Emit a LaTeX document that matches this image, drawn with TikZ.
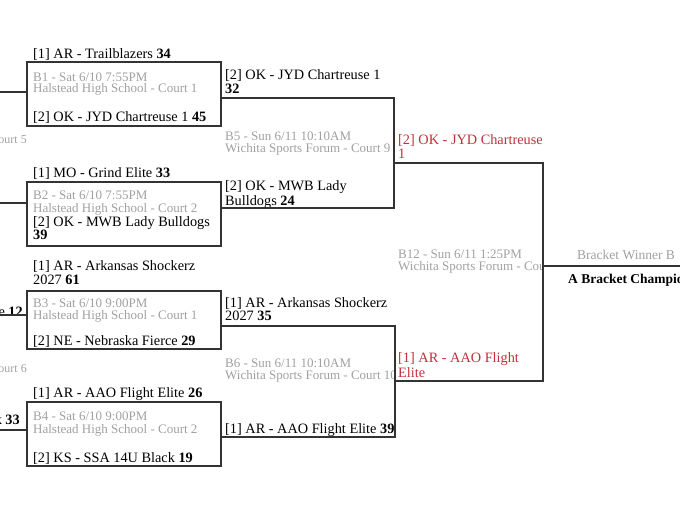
\documentclass[tikz,border=0pt]{standalone}
\usepackage{fontspec}
\setmainfont{Liberation Serif}
\usetikzlibrary{positioning}
\definecolor{linegray}{HTML}{333333}
\definecolor{infogray}{HTML}{A0A0A0}
\definecolor{winred}{HTML}{C0303A}

\begin{document}
\begin{tikzpicture}[x=1pt, y=-1pt,
  game/.style={draw=linegray, line width=2.5pt, minimum width=194pt,
               minimum height=64pt, inner sep=0pt},
  team/.style={anchor=base west, inner sep=0pt, font=\fontsize{14.3}{14}\selectfont},
  info/.style={anchor=base west, inner sep=0pt, text=infogray,
               font=\fontsize{13}{12}\selectfont},
  win/.style={team, text=winred},
  link/.style={draw=linegray, line width=2.5pt}
]
  \useasboundingbox (0,0) rectangle (680,507);
  \clip (0,0) rectangle (680,507);

  % Round 1 games
  \node[game] (b1) at (124,94) {};
  \node[game] (b2) at (124,214) {};
  \node[game, minimum height=58pt] (b3) at (124,320) {};
  \node[game] (b4) at (124,434) {};

  \node[team] (b1a) at (33,58) {[1] AR - Trailblazers \textbf{34}};
  \node[info] (b1t) at (33,81) {B1 - Sat 6/10 7:55PM};
  \node[info] (b1p) at (33,92) {Halstead High School - Court 1};
  \node[team] (b1b) at (33,121) {[2] OK - JYD Chartreuse 1 \textbf{45}};

  \node[team] (b2a) at (33,177) {[1] MO - Grind Elite \textbf{33}};
  \node[info] (b2t) at (33,199) {B2 - Sat 6/10 7:55PM};
  \node[info] (b2p) at (33,212) {Halstead High School - Court 2};
  \node[team] (b2b) at (33,226) {[2] OK - MWB Lady Bulldogs};
  \node[team] (b2s) at (33,239) {\textbf{39}};

  \node[team] (b3a) at (33,270) {[1] AR - Arkansas Shockerz};
  \node[team] (b3s) at (33,284) {2027 \textbf{61}};
  \node[info] (b3t) at (33,307) {B3 - Sat 6/10 9:00PM};
  \node[info] (b3p) at (33,319) {Halstead High School - Court 1};
  \node[team] (b3b) at (33,345) {[2] NE - Nebraska Fierce \textbf{29}};

  \node[team] (b4a) at (33,397) {[1] AR - AAO Flight Elite \textbf{26}};
  \node[info] (b4t) at (33,420) {B4 - Sat 6/10 9:00PM};
  \node[info] (b4p) at (33,433) {Halstead High School - Court 2};
  \node[team] (b4b) at (33,462) {[2] KS - SSA 14U Black \textbf{19}};

  % cut-off texts at the left edge
  \node[info, anchor=base east, font=\fontsize{12}{12}\selectfont] (c5) at (27,143) {ourt 5};
  \node[team, anchor=base east] (w12) at (23,316) {e \textbf{12}};
  \node[info, anchor=base east, font=\fontsize{12}{12}\selectfont] (c6) at (27,372) {ourt 6};
  \node[team, anchor=base east] (w33) at (20,424) {k \textbf{33}};

  % Round 2
  \begin{scope}
    \clip (221,0) rectangle (394,507);
    \node[team] (b5a) at (225,79) {[2] OK - JYD Chartreuse 1};
    \node[team] (b5s) at (225,93) {\textbf{32}};
    \node[info] (b5t) at (225,140) {B5 - Sun 6/11 10:10AM};
    \node[info] (b5p) at (225,152) {Wichita Sports Forum - Court 9};
    \node[team] (b5b) at (225,190) {[2] OK - MWB Lady};
    \node[team] (b5c) at (225,205) {Bulldogs \textbf{24}};

    \node[team] (b6a) at (225,307) {[1] AR - Arkansas Shockerz};
    \node[team] (b6s) at (225,320) {2027 \textbf{35}};
    \node[info] (b6t) at (225,367) {B6 - Sun 6/11 10:10AM};
    \node[info] (b6p) at (225,379) {Wichita Sports Forum - Court 10};
    \node[team] (b6b) at (225,433) {[1] AR - AAO Flight Elite \textbf{39}};
  \end{scope}

  % Round 3
  \begin{scope}
    \clip (395,0) rectangle (543,507);
    \node[win] (b12a) at (398,144) {[2] OK - JYD Chartreuse};
    \node[win] (b12s) at (398,158) {1};
    \node[info] (b12t) at (398,258) {B12 - Sun 6/11 1:25PM};
    \node[info] (b12p) at (398,270) {Wichita Sports Forum - Cou};
    \node[win] (b12b) at (398,362) {[1] AR - AAO Flight};
    \node[win] (b12c) at (398,377) {Elite};
  \end{scope}

  % Final
  \node[info, font=\fontsize{13.5}{13}\selectfont] (fin) at (577,259) {Bracket Winner B};
  \node[team, font=\fontsize{13.5}{13}\selectfont\bfseries] (champ) at (568,283) {A Bracket Champion};

  % connectors
  \coordinate (l1) at (0,92);
  \coordinate (l2) at (0,203);
  \coordinate (l3) at (0,315);
  \coordinate (l4) at (0,430);
  \draw[link] (l1) -- (b1.west |- l1);
  \draw[link] (l2) -- (b2.west |- l2);
  \draw[link] (l3) -- (b3.west |- l3);
  \draw[link] (l4) -- (b4.west |- l4);

  \coordinate (b5top) at (394,98);
  \coordinate (b5bot) at (394,208);
  \coordinate (b5out) at (394,163);
  \coordinate (b6top) at (395,326);
  \coordinate (b6bot) at (395,437);
  \coordinate (b6out) at (395,381);
  \coordinate (b12top) at (543,163);
  \coordinate (b12bot) at (543,381);
  \coordinate (b12out) at (543,266);
  \coordinate (winner) at (680,266);

  \draw[link] (b1.east |- b5top) -- (b5top) -- (b5bot) -- (b2.east |- b5bot);
  \draw[link] (b3.east |- b6top) -- (b6top) -- (b6bot) -- (b4.east |- b6bot);
  \draw[link] (b5out) -- (b12top) -- (b12bot) -- (b6out);
  \draw[link] (b12out) -- (winner);
\end{tikzpicture}
\end{document}
